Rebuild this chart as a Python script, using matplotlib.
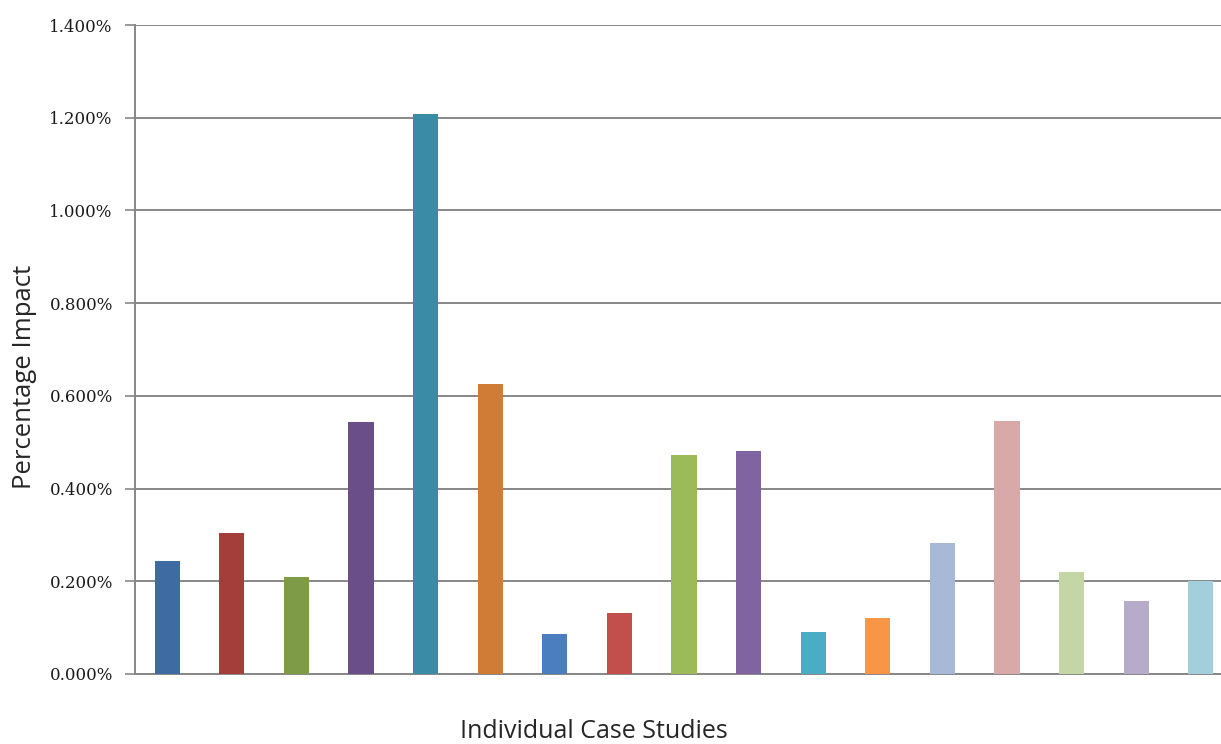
import numpy as np
import matplotlib.pyplot as plt
from matplotlib.ticker import FuncFormatter, MultipleLocator

# percentage impact of each case study (in %)
cases = list(range(1, 18))
impact = [0.244, 0.305, 0.210, 0.544, 1.207, 0.626, 0.087, 0.132, 0.472,
          0.480, 0.091, 0.121, 0.282, 0.545, 0.221, 0.157, 0.200]
bar_colors = ['#3D6BA2', '#A43E3B', '#7E9B47', '#694E8A', '#3A8BA5', '#D07C36',
              '#4A7EBE', '#C24F4C', '#9BBB59', '#8064A2', '#4BACC6', '#F79646',
              '#A8B9D8', '#D9A8A8', '#C5D6A6', '#B7ABCA', '#A3CEDB']

W, H = 1221, 744
fig = plt.figure(figsize=(W / 100, H / 100), dpi=100)
ax = fig.add_axes([135 / W, 70 / H, (1233 - 135) / W, (674 - 25) / H])

x = np.arange(len(cases))
ax.bar(x, impact, width=0.39, color=bar_colors, zorder=3)

ax.set_xlim(-0.5, len(cases) - 0.5)
ax.set_ylim(0, 1.4)
ax.yaxis.set_major_locator(MultipleLocator(0.2))
ax.yaxis.set_major_formatter(FuncFormatter(lambda v, p: f'{v:.3f}%'))
ax.grid(axis='y', color='#878787', linewidth=1.4, zorder=0)
ax.set_xticks([])

for s in ['top', 'right']:
    ax.spines[s].set_visible(False)
for s in ['left', 'bottom']:
    ax.spines[s].set_color('#878787')
    ax.spines[s].set_linewidth(1.4)

ax.tick_params(axis='y', length=7, width=1.2, color='#878787', pad=9,
               labelsize=12, labelcolor='#1a1a1a')
for lbl in ax.get_yticklabels():
    lbl.set_family('DejaVu Serif')

fig.text(25 / W, 1 - 377 / H, 'Percentage Impact', rotation=90, ha='center',
         va='center', family='Open Sans', fontsize=18.5, color='#262626')
fig.text(594 / W, 1 - 738 / H, 'Individual Case Studies', ha='center',
         va='baseline', family='Open Sans', fontsize=18, color='#262626')

fig.savefig('out.png', dpi=100)
